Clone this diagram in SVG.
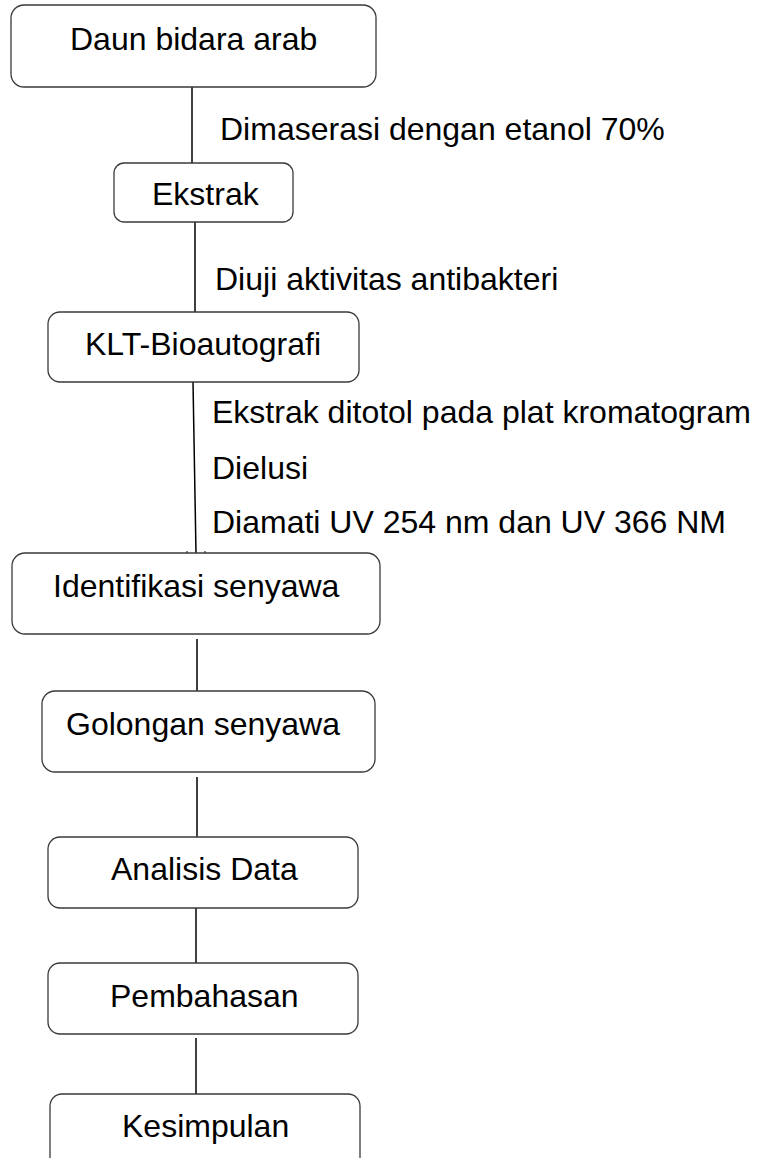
<svg xmlns="http://www.w3.org/2000/svg" width="762" height="1158" viewBox="0 0 762 1158">
<style>
.box{fill:#fff;stroke:#3a3a3a;stroke-width:1.3}
.t{font-family:"Liberation Sans",Arial,sans-serif;font-size:32px;fill:#000}
.c{stroke:#000;stroke-width:1.5;fill:none}
</style>
<rect width="762" height="1158" fill="#fff"/>
<g id="connectors">
<line class="c" x1="192" y1="87" x2="192" y2="163"/>
<line class="c" x1="195" y1="222" x2="195" y2="312"/>
<line class="c" x1="193" y1="382" x2="196" y2="553"/>
<path d="M187 551 l0 2 M205 551 l0 2" stroke="#000" stroke-width="1" fill="none"/>
<line class="c" x1="197" y1="639" x2="197" y2="691"/>
<line class="c" x1="197" y1="777" x2="197" y2="837"/>
<line class="c" x1="196" y1="908" x2="196" y2="963"/>
<line class="c" x1="196" y1="1038" x2="196" y2="1094"/>
<text class="t" x="220" y="140">Dimaserasi dengan etanol 70%</text>
<text class="t" x="215" y="290">Diuji aktivitas antibakteri</text>
<text class="t" x="212" y="423">Ekstrak ditotol pada plat kromatogram</text>
<text class="t" x="212" y="479">Dielusi</text>
<text class="t" x="212" y="533">Diamati UV 254 nm dan UV 366 NM</text>
</g>
<g id="n1"><rect class="box" x="11" y="5" width="365" height="82" rx="13"/><text class="t" x="70" y="50">Daun bidara arab</text></g>
<g id="n2"><rect class="box" x="114" y="163" width="179" height="59" rx="10"/><text class="t" x="152" y="205">Ekstrak</text></g>
<g id="n3"><rect class="box" x="48" y="312" width="311" height="70" rx="12"/><text class="t" x="85" y="355">KLT-Bioautografi</text></g>
<g id="n4"><rect class="box" x="12" y="553" width="368" height="81" rx="13"/><text class="t" x="53" y="597">Identifikasi senyawa</text></g>
<g id="n5"><rect class="box" x="42" y="691" width="333" height="81" rx="13"/><text class="t" x="66" y="735">Golongan senyawa</text></g>
<g id="n6"><rect class="box" x="48" y="837" width="310" height="71" rx="12"/><text class="t" x="111" y="880">Analisis Data</text></g>
<g id="n7"><rect class="box" x="48" y="963" width="310" height="71" rx="12"/><text class="t" x="110" y="1007">Pembahasan</text></g>
<g id="n8"><rect class="box" x="50" y="1094" width="310" height="90" rx="12"/><text class="t" x="122" y="1137">Kesimpulan</text></g>
</svg>
